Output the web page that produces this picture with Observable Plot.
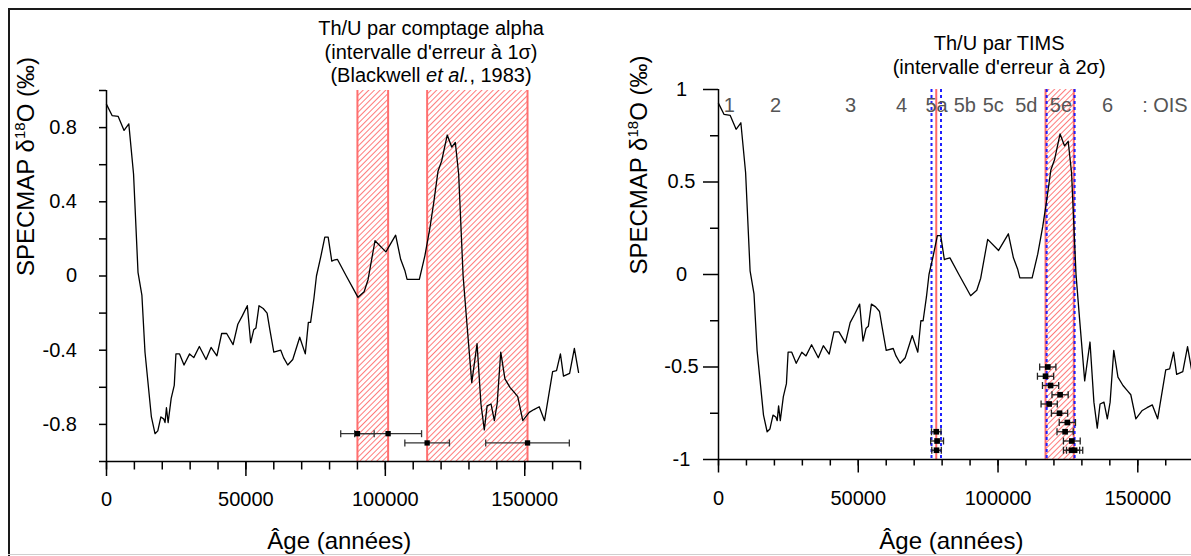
<!DOCTYPE html>
<html><head><meta charset="utf-8">
<script src="https://cdn.jsdelivr.net/npm/d3@7"></script>
<script src="https://cdn.jsdelivr.net/npm/@observablehq/plot@0.6"></script>
<style>
html,body{margin:0;padding:0;background:#fff;overflow:hidden;}
body{width:1191px;height:556px;position:relative;font-family:"Liberation Sans",Arial,sans-serif;}
#left{position:absolute;left:0;top:0;width:600px;height:556px;}
#right{position:absolute;left:600px;top:0;width:600px;height:556px;}
.bd{position:absolute;z-index:5;}
</style></head><body>
<svg width="0" height="0" style="position:absolute">
  <defs>
    <pattern id="hatch" patternUnits="userSpaceOnUse" width="4" height="4" patternTransform="rotate(45)">
      <line x1="0.5" y1="0" x2="0.5" y2="4" stroke="#ff7b7b" stroke-width="1"/>
    </pattern>
  </defs>
</svg>
<div id="left"></div>
<div id="right"></div>
<div class="bd" style="left:8px;top:8px;width:1183px;height:2px;background:#1a1a1a"></div>
<div class="bd" style="left:8px;top:8px;width:2px;height:548px;background:#1a1a1a"></div>
<div class="bd" style="left:8px;top:554px;width:1183px;height:1px;background:#cfcfcf"></div>
<script>
// SPECMAP curve (age in years, δ18O normalised)
const ages = [0,2000,4200,6300,8000,9700,11300,12700,13800,16100,17400,18400,19500,20500,21000,21500,22100,23200,24300,24900,26200,27800,29800,31300,33300,35700,37500,39600,41300,43100,45400,47100,48700,50500,51700,52800,53600,54700,56200,57600,58600,60000,62500,63500,65000,66800,69300,71300,72400,73200,74400,75300,76800,78300,79500,80800,81500,82800,86000,90200,92400,93800,96300,100200,103700,105500,107000,107800,112200,114200,116000,117400,118900,120200,122200,123800,125100,126300,127900,129200,131000,132900,134300,135500,136500,137900,139100,140100,141400,142900,144700,146400,147500,149300,151600,153300,155200,157100,160000,161400,162800,163900,166100,167800,169300];
const d18O = [0.925,0.865,0.86,0.785,0.82,0.55,0.02,-0.105,-0.41,-0.76,-0.85,-0.835,-0.76,-0.77,-0.79,-0.71,-0.79,-0.66,-0.59,-0.42,-0.42,-0.48,-0.42,-0.44,-0.38,-0.45,-0.385,-0.43,-0.31,-0.31,-0.37,-0.26,-0.215,-0.16,-0.36,-0.29,-0.28,-0.16,-0.175,-0.2,-0.29,-0.41,-0.40,-0.44,-0.48,-0.45,-0.33,-0.42,-0.25,-0.25,-0.12,0.0,0.1,0.21,0.21,0.08,0.085,0.09,0.0,-0.115,-0.085,-0.02,0.19,0.13,0.22,0.09,0.03,-0.018,-0.018,0.11,0.26,0.4,0.565,0.62,0.76,0.695,0.72,0.55,0.0,-0.245,-0.575,-0.365,-0.69,-0.83,-0.7,-0.69,-0.78,-0.69,-0.41,-0.555,-0.6,-0.63,-0.65,-0.78,-0.735,-0.72,-0.705,-0.78,-0.515,-0.51,-0.42,-0.54,-0.525,-0.39,-0.52];

// Left panel: alpha counting ages (1 sigma)
const alphaAge = [90000,101000,115000,151000];
const alphaLo  = [84000,89000,107000,136000];
const alphaHi  = [96000,113000,123000,166000];
const alphaY   = [-0.85,-0.85,-0.9,-0.9];
const alphaBandStart = [90000,115000];
const alphaBandEnd   = [101000,151000];

// Right panel: TIMS ages (2 sigma)
const timsAge = [77900,78200,78000,117800,117000,118800,122200,118300,122000,124800,124000,126400,126300,127400];
const timsErr = [1700,2300,1700,2900,2900,2900,2900,2900,2900,2900,2900,3000,2900,2900];
const timsY   = [-0.85,-0.9,-0.95,-0.5,-0.55,-0.6,-0.65,-0.7,-0.75,-0.8,-0.85,-0.9,-0.95,-0.95];
const timsBandStart = [117000];
const timsBandEnd   = [127100];
const timsRed  = [77900,117000,127100];
const timsBlue = [76200,79600,117400,127400];

// OIS labels
const oisText = ["1","2","3","4","5a","5b","5c","5d","5e","6",": OIS"];
const oisAge  = [3900,20400,47200,65500,78000,88100,98300,110100,122500,139200,159700];

// Axis ticks / labels
const xMajor = [0,50000,100000,150000];
const xMinor = [0,10000,20000,30000,40000,50000,60000,70000,80000,90000,100000,110000,120000,130000,140000,150000,160000,170000];
const xLabels = ["0","50000","100000","150000"];
const yTicksL = [-1,-0.8,-0.6,-0.4,-0.2,0,0.2,0.4,0.6,0.8,1];
const yLabVL = [0.8,0.4,0,-0.4,-0.8];
const yLabTL = ["0.8","0.4","0","-0.4","-0.8"];
const yMajorR = [-1,-0.5,0,0.5,1];
const yMinorR = [-0.75,-0.25,0.25,0.75];
const yLabTR = ["-1","-0.5","0","0.5","1"];

const yTitle = "SPECMAP δ18O (‰)";
const xTitle = "Âge (années)";

const curve = ages.map((a,i)=>({age:a, v:d18O[i]}));
const alphaPts = alphaAge.map((a,i)=>({age:a, lo:alphaLo[i], hi:alphaHi[i], v:alphaY[i]}));
const alphaCaps = alphaPts.flatMap(d=>[{x:d.lo,v:d.v},{x:d.hi,v:d.v}]);
const alphaBands = alphaBandStart.map((s,i)=>({x1:s,x2:alphaBandEnd[i]}));
const timsPts = timsAge.map((a,i)=>({age:a, lo:a-timsErr[i], hi:a+timsErr[i], v:timsY[i]}));
const timsCaps = timsPts.flatMap(d=>[{x:d.lo,v:d.v},{x:d.hi,v:d.v}]);
const timsBands = timsBandStart.map((s,i)=>({x1:s,x2:timsBandEnd[i]}));
const ois = oisText.map((t,i)=>({t, age:oisAge[i]}));

const capSym = {draw(ctx){ctx.moveTo(0,-3.5);ctx.lineTo(0,3.5);}};
const font = "'Liberation Sans', Arial, sans-serif";

function rich(svg){
  d3.select(svg).selectAll("text").each(function(){
    const t = this.textContent;
    const s = d3.select(this);
    if (t === yTitle){
      s.text("");
      s.append("tspan").text("SPECMAP δ");
      s.append("tspan").attr("dy","-9").attr("font-size","15").text("18");
      s.append("tspan").attr("dy","9").text("O (‰)");
    } else if (t === "(Blackwell et al., 1983)"){
      s.text("");
      s.append("tspan").text("(Blackwell ");
      s.append("tspan").attr("font-style","italic").text("et al.");
      s.append("tspan").text(", 1983)");
    }
  });
  return svg;
}

const left = Plot.plot({
  width:600, height:556,
  marginLeft:106, marginRight:20, marginTop:90, marginBottom:95,
  x:{domain:[0,170000]}, y:{domain:[-1,1]},
  style:{fontFamily:font, fontSize:"20px", color:"black", background:"transparent", overflow:"visible"},
  marks:[
    Plot.rect(alphaBands,{x1:"x1",x2:"x2",y1:-1,y2:1,fill:"url(#hatch)"}),
    Plot.ruleX(alphaBandStart.concat(alphaBandEnd),{stroke:"#ff6f6f",strokeWidth:2}),
    Plot.line(curve,{x:"age",y:"v",stroke:"black",strokeWidth:1.3}),
    Plot.link(alphaPts,{x1:"lo",x2:"hi",y1:"v",y2:"v",stroke:"#333",strokeWidth:1.3}),
    Plot.dot(alphaCaps,{x:"x",y:"v",symbol:capSym,stroke:"#333",strokeWidth:1.3}),
    Plot.dot(alphaPts,{x:"age",y:"v",symbol:"square",fill:"black",r:3}),
    Plot.axisX({ticks:xMinor,tickSize:8.5,tickFormat:()=>"",label:null,strokeWidth:1.5}),
    Plot.axisX({ticks:xMajor,tickSize:15,tickFormat:()=>"",label:null,strokeWidth:1.5}),
    Plot.axisY({ticks:yTicksL,tickSize:7,tickFormat:()=>"",label:null,strokeWidth:1.5}),
    Plot.ruleX([0],{strokeWidth:1.5}),
    Plot.ruleY([-1],{strokeWidth:1.5}),
    Plot.text(xMajor,{x:d=>d,text:(d,i)=>xLabels[i],frameAnchor:"bottom",dy:44,fontSize:20}),
    Plot.text(yLabVL,{y:d=>d,text:(d,i)=>yLabTL[i],frameAnchor:"left",dx:-29.5,textAnchor:"end",fontSize:20}),
    Plot.text([xTitle],{x:83500,text:d=>d,frameAnchor:"bottom",dy:87,fontSize:24}),
    Plot.text([yTitle],{y:0,text:d=>d,frameAnchor:"left",dx:-80,rotate:-90,fontSize:24}),
    Plot.text(["Th/U par comptage alpha"],{x:116400,text:d=>d,frameAnchor:"top",dy:-70,fontSize:20}),
    Plot.text(["(intervalle d'erreur à 1σ)"],{x:116400,text:d=>d,frameAnchor:"top",dy:-45.5,fontSize:20}),
    Plot.text(["(Blackwell et al., 1983)"],{x:116400,text:d=>d,frameAnchor:"top",dy:-22.5,fontSize:20})
  ]
});
document.getElementById("left").appendChild(rich(left));

const right = Plot.plot({
  width:600, height:556,
  marginLeft:118, marginRight:6.8, marginTop:89, marginBottom:97,
  x:{domain:[0,170000]}, y:{domain:[-1,1]},
  style:{fontFamily:font, fontSize:"20px", color:"black", background:"transparent", overflow:"visible"},
  marks:[
    Plot.rect(timsBands,{x1:"x1",x2:"x2",y1:-1,y2:1,fill:"url(#hatch)"}),
    Plot.ruleX(timsRed,{stroke:"#ff6a6a",strokeWidth:2}),
    Plot.ruleX(timsBlue,{stroke:"#1f1fff",strokeWidth:2,strokeDasharray:"3,3"}),
    Plot.line(curve,{x:"age",y:"v",stroke:"black",strokeWidth:1.3}),
    Plot.link(timsPts,{x1:"lo",x2:"hi",y1:"v",y2:"v",stroke:"#222",strokeWidth:1.3}),
    Plot.dot(timsCaps,{x:"x",y:"v",symbol:capSym,stroke:"#222",strokeWidth:1.3}),
    Plot.dot(timsPts,{x:"age",y:"v",symbol:"square",fill:"black",r:3.2}),
    Plot.text(ois,{x:"age",text:"t",frameAnchor:"top",dy:8,fontSize:20,fill:"#555"}),
    Plot.axisX({ticks:xMinor,tickSize:6.5,tickFormat:()=>"",label:null,strokeWidth:1.5}),
    Plot.axisX({ticks:xMajor,tickSize:13.5,tickFormat:()=>"",label:null,strokeWidth:1.5}),
    Plot.axisY({ticks:yMinorR,tickSize:8,tickFormat:()=>"",label:null,strokeWidth:1.5}),
    Plot.axisY({ticks:yMajorR,tickSize:15,tickFormat:()=>"",label:null,strokeWidth:1.5}),
    Plot.ruleX([0],{strokeWidth:1.5}),
    Plot.ruleY([-1],{strokeWidth:1.5}),
    Plot.text(xMajor,{x:d=>d,text:(d,i)=>xLabels[i],frameAnchor:"bottom",dy:45,fontSize:20}),
    Plot.text(yMajorR,{y:d=>d,text:(d,i)=>yLabTR[i],frameAnchor:"left",dx:-37,textAnchor:"middle",fontSize:20}),
    Plot.text([xTitle],{x:83300,text:d=>d,frameAnchor:"bottom",dy:89,fontSize:24}),
    Plot.text([yTitle],{y:0,text:d=>d,frameAnchor:"left",dx:-79,rotate:-90,fontSize:24}),
    Plot.text(["Th/U par TIMS"],{x:100400,text:d=>d,frameAnchor:"top",dy:-54,fontSize:20}),
    Plot.text(["(intervalle d'erreur à 2σ)"],{x:100400,text:d=>d,frameAnchor:"top",dy:-30,fontSize:20})
  ]
});
document.getElementById("right").appendChild(rich(right));
</script>
</body></html>
